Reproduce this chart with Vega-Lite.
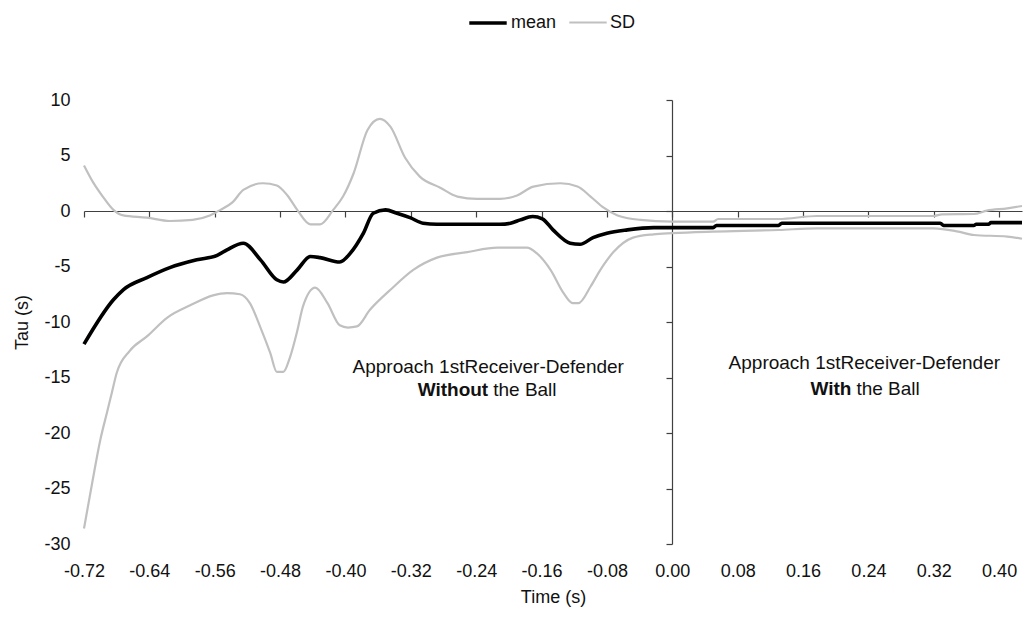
{
  "$schema": "https://vega.github.io/schema/vega-lite/v6.json",
  "autosize": {"type": "none"},
  "padding": {"left": 84, "top": 100, "right": 1, "bottom": 75},
  "width": 938,
  "height": 444,
  "config": {
    "view": {"stroke": null},
    "font": "Liberation Sans",
    "axis": {"grid": false, "labelFont": "Liberation Sans", "titleFont": "Liberation Sans", "labelColor": "#111111", "titleColor": "#111111", "labelFontSize": 18, "titleFontSize": 18, "titleFontWeight": "normal"},
    "legend": {"labelFont": "Liberation Sans", "labelFontSize": 18, "labelColor": "#111111"}
  },
  "datasets": {
    "mean": [
      {"t": -0.72, "v": -12.0, "s": "mean"},
      {"t": -0.684, "v": -8.0, "s": "mean"},
      {"t": -0.672, "v": -7.1, "s": "mean"},
      {"t": -0.643, "v": -6.0, "s": "mean"},
      {"t": -0.615, "v": -5.1, "s": "mean"},
      {"t": -0.582, "v": -4.4, "s": "mean"},
      {"t": -0.557, "v": -4.0, "s": "mean"},
      {"t": -0.545, "v": -3.5, "s": "mean"},
      {"t": -0.525, "v": -2.9, "s": "mean"},
      {"t": -0.504, "v": -4.4, "s": "mean"},
      {"t": -0.484, "v": -6.2, "s": "mean"},
      {"t": -0.476, "v": -6.4, "s": "mean"},
      {"t": -0.459, "v": -5.3, "s": "mean"},
      {"t": -0.443, "v": -4.1, "s": "mean"},
      {"t": -0.431, "v": -4.2, "s": "mean"},
      {"t": -0.407, "v": -4.6, "s": "mean"},
      {"t": -0.394, "v": -3.8, "s": "mean"},
      {"t": -0.378, "v": -2.0, "s": "mean"},
      {"t": -0.366, "v": -0.2, "s": "mean"},
      {"t": -0.351, "v": 0.1, "s": "mean"},
      {"t": -0.337, "v": -0.2, "s": "mean"},
      {"t": -0.321, "v": -0.6, "s": "mean"},
      {"t": -0.305, "v": -1.1, "s": "mean"},
      {"t": -0.288, "v": -1.2, "s": "mean"},
      {"t": -0.211, "v": -1.2, "s": "mean"},
      {"t": -0.198, "v": -1.1, "s": "mean"},
      {"t": -0.186, "v": -0.8, "s": "mean"},
      {"t": -0.171, "v": -0.5, "s": "mean"},
      {"t": -0.159, "v": -0.7, "s": "mean"},
      {"t": -0.146, "v": -1.7, "s": "mean"},
      {"t": -0.125, "v": -2.9, "s": "mean"},
      {"t": -0.113, "v": -3.0, "s": "mean"},
      {"t": -0.097, "v": -2.4, "s": "mean"},
      {"t": -0.08, "v": -2.0, "s": "mean"},
      {"t": -0.055, "v": -1.7, "s": "mean"},
      {"t": -0.023, "v": -1.5, "s": "mean"},
      {"t": 0.05, "v": -1.5, "s": "mean"},
      {"t": 0.054, "v": -1.3, "s": "mean"},
      {"t": 0.13, "v": -1.3, "s": "mean"},
      {"t": 0.134, "v": -1.1, "s": "mean"},
      {"t": 0.328, "v": -1.1, "s": "mean"},
      {"t": 0.332, "v": -1.3, "s": "mean"},
      {"t": 0.369, "v": -1.3, "s": "mean"},
      {"t": 0.372, "v": -1.2, "s": "mean"},
      {"t": 0.387, "v": -1.2, "s": "mean"},
      {"t": 0.39, "v": -1.05, "s": "mean"},
      {"t": 0.428, "v": -1.05, "s": "mean"}
    ],
    "sd": [
      {"t": -0.72, "v": 4.1, "s": "SD", "b": "upper"},
      {"t": -0.709, "v": 2.6, "s": "SD", "b": "upper"},
      {"t": -0.697, "v": 1.3, "s": "SD", "b": "upper"},
      {"t": -0.684, "v": 0.1, "s": "SD", "b": "upper"},
      {"t": -0.672, "v": -0.4, "s": "SD", "b": "upper"},
      {"t": -0.643, "v": -0.6, "s": "SD", "b": "upper"},
      {"t": -0.615, "v": -0.9, "s": "SD", "b": "upper"},
      {"t": -0.587, "v": -0.8, "s": "SD", "b": "upper"},
      {"t": -0.566, "v": -0.4, "s": "SD", "b": "upper"},
      {"t": -0.553, "v": 0.1, "s": "SD", "b": "upper"},
      {"t": -0.538, "v": 0.8, "s": "SD", "b": "upper"},
      {"t": -0.525, "v": 1.9, "s": "SD", "b": "upper"},
      {"t": -0.501, "v": 2.5, "s": "SD", "b": "upper"},
      {"t": -0.484, "v": 2.3, "s": "SD", "b": "upper"},
      {"t": -0.471, "v": 1.4, "s": "SD", "b": "upper"},
      {"t": -0.459, "v": 0.1, "s": "SD", "b": "upper"},
      {"t": -0.443, "v": -1.2, "s": "SD", "b": "upper"},
      {"t": -0.431, "v": -1.2, "s": "SD", "b": "upper"},
      {"t": -0.415, "v": 0.1, "s": "SD", "b": "upper"},
      {"t": -0.403, "v": 1.3, "s": "SD", "b": "upper"},
      {"t": -0.39, "v": 3.4, "s": "SD", "b": "upper"},
      {"t": -0.373, "v": 7.3, "s": "SD", "b": "upper"},
      {"t": -0.358, "v": 8.3, "s": "SD", "b": "upper"},
      {"t": -0.345, "v": 7.6, "s": "SD", "b": "upper"},
      {"t": -0.327, "v": 4.8, "s": "SD", "b": "upper"},
      {"t": -0.309, "v": 3.1, "s": "SD", "b": "upper"},
      {"t": -0.284, "v": 2.1, "s": "SD", "b": "upper"},
      {"t": -0.263, "v": 1.3, "s": "SD", "b": "upper"},
      {"t": -0.239, "v": 1.1, "s": "SD", "b": "upper"},
      {"t": -0.211, "v": 1.1, "s": "SD", "b": "upper"},
      {"t": -0.19, "v": 1.4, "s": "SD", "b": "upper"},
      {"t": -0.17, "v": 2.2, "s": "SD", "b": "upper"},
      {"t": -0.137, "v": 2.5, "s": "SD", "b": "upper"},
      {"t": -0.116, "v": 2.2, "s": "SD", "b": "upper"},
      {"t": -0.1, "v": 1.3, "s": "SD", "b": "upper"},
      {"t": -0.084, "v": 0.3, "s": "SD", "b": "upper"},
      {"t": -0.067, "v": -0.4, "s": "SD", "b": "upper"},
      {"t": -0.039, "v": -0.8, "s": "SD", "b": "upper"},
      {"t": 0.0, "v": -0.95, "s": "SD", "b": "upper"},
      {"t": 0.05, "v": -0.96, "s": "SD", "b": "upper"},
      {"t": 0.056, "v": -0.72, "s": "SD", "b": "upper"},
      {"t": 0.13, "v": -0.72, "s": "SD", "b": "upper"},
      {"t": 0.177, "v": -0.45, "s": "SD", "b": "upper"},
      {"t": 0.32, "v": -0.45, "s": "SD", "b": "upper"},
      {"t": 0.33, "v": -0.3, "s": "SD", "b": "upper"},
      {"t": 0.369, "v": -0.27, "s": "SD", "b": "upper"},
      {"t": 0.385, "v": 0.03, "s": "SD", "b": "upper"},
      {"t": 0.41, "v": 0.24, "s": "SD", "b": "upper"},
      {"t": 0.428, "v": 0.45, "s": "SD", "b": "upper"},
      {"t": -0.72, "v": -28.6, "s": "SD", "b": "lower"},
      {"t": -0.71, "v": -24.5, "s": "SD", "b": "lower"},
      {"t": -0.7, "v": -20.6, "s": "SD", "b": "lower"},
      {"t": -0.692, "v": -18.2, "s": "SD", "b": "lower"},
      {"t": -0.686, "v": -16.4, "s": "SD", "b": "lower"},
      {"t": -0.68, "v": -14.6, "s": "SD", "b": "lower"},
      {"t": -0.664, "v": -12.6, "s": "SD", "b": "lower"},
      {"t": -0.643, "v": -11.3, "s": "SD", "b": "lower"},
      {"t": -0.618, "v": -9.6, "s": "SD", "b": "lower"},
      {"t": -0.59, "v": -8.5, "s": "SD", "b": "lower"},
      {"t": -0.562, "v": -7.6, "s": "SD", "b": "lower"},
      {"t": -0.545, "v": -7.4, "s": "SD", "b": "lower"},
      {"t": -0.529, "v": -7.5, "s": "SD", "b": "lower"},
      {"t": -0.517, "v": -8.3, "s": "SD", "b": "lower"},
      {"t": -0.504, "v": -10.5, "s": "SD", "b": "lower"},
      {"t": -0.492, "v": -12.8, "s": "SD", "b": "lower"},
      {"t": -0.484, "v": -14.5, "s": "SD", "b": "lower"},
      {"t": -0.476, "v": -14.5, "s": "SD", "b": "lower"},
      {"t": -0.468, "v": -13.2, "s": "SD", "b": "lower"},
      {"t": -0.459, "v": -10.8, "s": "SD", "b": "lower"},
      {"t": -0.452, "v": -8.6, "s": "SD", "b": "lower"},
      {"t": -0.437, "v": -6.9, "s": "SD", "b": "lower"},
      {"t": -0.422, "v": -8.3, "s": "SD", "b": "lower"},
      {"t": -0.407, "v": -10.3, "s": "SD", "b": "lower"},
      {"t": -0.397, "v": -10.5, "s": "SD", "b": "lower"},
      {"t": -0.386, "v": -10.4, "s": "SD", "b": "lower"},
      {"t": -0.37, "v": -8.9, "s": "SD", "b": "lower"},
      {"t": -0.345, "v": -7.1, "s": "SD", "b": "lower"},
      {"t": -0.317, "v": -5.3, "s": "SD", "b": "lower"},
      {"t": -0.288, "v": -4.2, "s": "SD", "b": "lower"},
      {"t": -0.251, "v": -3.7, "s": "SD", "b": "lower"},
      {"t": -0.214, "v": -3.3, "s": "SD", "b": "lower"},
      {"t": -0.178, "v": -3.3, "s": "SD", "b": "lower"},
      {"t": -0.166, "v": -3.8, "s": "SD", "b": "lower"},
      {"t": -0.149, "v": -5.3, "s": "SD", "b": "lower"},
      {"t": -0.133, "v": -7.4, "s": "SD", "b": "lower"},
      {"t": -0.122, "v": -8.3, "s": "SD", "b": "lower"},
      {"t": -0.115, "v": -8.3, "s": "SD", "b": "lower"},
      {"t": -0.1, "v": -6.8, "s": "SD", "b": "lower"},
      {"t": -0.088, "v": -5.3, "s": "SD", "b": "lower"},
      {"t": -0.072, "v": -3.7, "s": "SD", "b": "lower"},
      {"t": -0.048, "v": -2.4, "s": "SD", "b": "lower"},
      {"t": -0.023, "v": -2.1, "s": "SD", "b": "lower"},
      {"t": 0.0, "v": -2.0, "s": "SD", "b": "lower"},
      {"t": 0.05, "v": -1.86, "s": "SD", "b": "lower"},
      {"t": 0.13, "v": -1.71, "s": "SD", "b": "lower"},
      {"t": 0.177, "v": -1.56, "s": "SD", "b": "lower"},
      {"t": 0.32, "v": -1.56, "s": "SD", "b": "lower"},
      {"t": 0.35, "v": -1.86, "s": "SD", "b": "lower"},
      {"t": 0.369, "v": -2.16, "s": "SD", "b": "lower"},
      {"t": 0.41, "v": -2.3, "s": "SD", "b": "lower"},
      {"t": 0.428, "v": -2.5, "s": "SD", "b": "lower"}
    ],
    "noteCenter": [
      {"t": -0.2253, "v": -14.05, "label": "Approach 1stReceiver-Defender"},
      {"t": 0.235, "v": -13.7, "label": "Approach 1stReceiver-Defender"}
    ],
    "noteBold": [
      {"t": -0.2253, "v": -16.1, "label": "Without"},
      {"t": 0.2192, "v": -16.0, "label": "With"}
    ],
    "noteRest": [
      {"t": -0.2192, "v": -16.1, "label": "the Ball"},
      {"t": 0.2253, "v": -16.0, "label": "the Ball"}
    ]
  },
  "resolve": {"axis": {"x": "independent", "y": "independent"}},
  "layer": [
    {
      "data": {"name": "sd"},
      "mark": {"type": "line", "interpolate": "monotone"},
      "encoding": {
        "x": {"field": "t", "type": "quantitative", "scale": {"domain": [-0.72, 0.428], "nice": false, "zero": false},
          "axis": {"orient": "bottom", "title": "Time (s)", "domain": false, "ticks": false, "values": [-0.72, -0.64, -0.56, -0.48, -0.4, -0.32, -0.24, -0.16, -0.08, 0, 0.08, 0.16, 0.24, 0.32, 0.4], "labelExpr": "(datum.value < -0.0001 ? '-' : '') + format(abs(datum.value), '.2f')", "labelPadding": 18, "titlePadding": 8, "labelFlush": false, "labelOverlap": false}},
        "y": {"field": "v", "type": "quantitative", "scale": {"domain": [-30, 10], "nice": false, "zero": false},
          "axis": {"orient": "left", "title": "Tau (s)", "domain": false, "ticks": false, "values": [-30, -25, -20, -15, -10, -5, 0, 5, 10], "labelExpr": "'' + datum.value", "labelPadding": 14, "titlePadding": 12, "labelFlush": false, "labelOverlap": false}},
        "color": {"field": "s", "type": "nominal", "scale": {"domain": ["mean", "SD"], "range": ["#000000", "#c0c0c0"]},
          "legend": {"title": null, "orient": "none", "direction": "horizontal", "legendX": 383, "legendY": -98, "symbolType": "stroke", "symbolSize": 1400, "labelOffset": 2, "columnPadding": 7, "padding": 0}},
        "strokeWidth": {"field": "s", "type": "nominal", "scale": {"domain": ["mean", "SD"], "range": [3.6, 2.2]},
          "legend": {"title": null, "orient": "none", "direction": "horizontal", "legendX": 383, "legendY": -98, "symbolType": "stroke", "symbolSize": 1400, "labelOffset": 2, "columnPadding": 7, "padding": 0}},
        "detail": {"field": "b"}
      }
    },
    {
      "data": {"name": "mean"},
      "mark": {"type": "line", "interpolate": "monotone"},
      "encoding": {
        "x": {"field": "t", "type": "quantitative",
          "axis": {"orient": "bottom", "offset": -333, "title": null, "labels": false, "domain": true, "domainColor": "#404040", "domainWidth": 1.2, "ticks": true, "tickColor": "#404040", "tickSize": 6, "tickWidth": 1.2, "values": [-0.72, -0.64, -0.56, -0.48, -0.4, -0.32, -0.24, -0.16, -0.08, 0, 0.08, 0.16, 0.24, 0.32, 0.4]}},
        "y": {"field": "v", "type": "quantitative",
          "axis": {"orient": "left", "offset": -588, "title": null, "labels": false, "domain": true, "domainColor": "#404040", "domainWidth": 1.2, "ticks": true, "tickColor": "#404040", "tickSize": 6, "tickWidth": 1.2, "values": [-30, -25, -20, -15, -10, -5, 0, 5, 10]}},
        "color": {"field": "s", "type": "nominal"},
        "strokeWidth": {"field": "s", "type": "nominal"}
      }
    },
    {
      "data": {"name": "noteCenter"},
      "mark": {"type": "text", "align": "center", "baseline": "middle", "font": "Liberation Sans", "fontSize": 19, "color": "#111111"},
      "encoding": {
        "x": {"field": "t", "type": "quantitative", "axis": null},
        "y": {"field": "v", "type": "quantitative", "axis": null},
        "text": {"field": "label"}
      }
    },
    {
      "data": {"name": "noteBold"},
      "mark": {"type": "text", "align": "right", "baseline": "middle", "font": "Liberation Sans", "fontSize": 19, "fontWeight": "bold", "color": "#111111"},
      "encoding": {
        "x": {"field": "t", "type": "quantitative", "axis": null},
        "y": {"field": "v", "type": "quantitative", "axis": null},
        "text": {"field": "label"}
      }
    },
    {
      "data": {"name": "noteRest"},
      "mark": {"type": "text", "align": "left", "baseline": "middle", "font": "Liberation Sans", "fontSize": 19, "color": "#111111"},
      "encoding": {
        "x": {"field": "t", "type": "quantitative", "axis": null},
        "y": {"field": "v", "type": "quantitative", "axis": null},
        "text": {"field": "label"}
      }
    }
  ]
}
